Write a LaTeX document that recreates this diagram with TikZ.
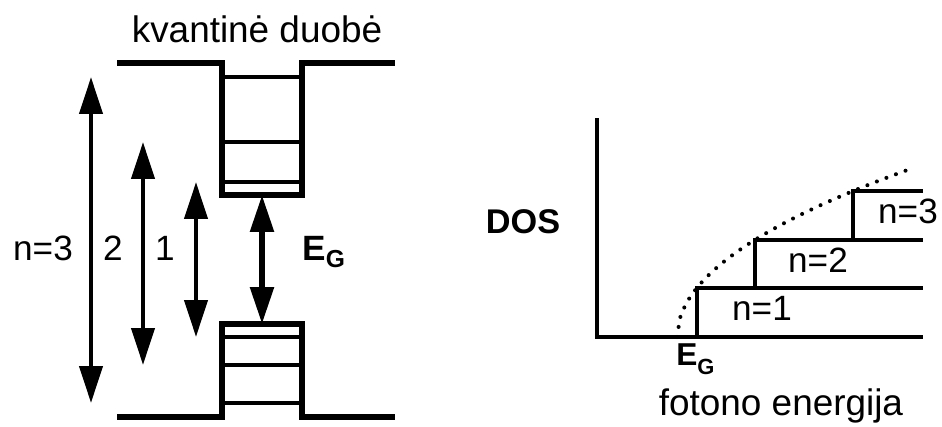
\documentclass[tikz,border=0pt]{standalone}
\usepackage{fontspec}
\setmainfont{Liberation Sans}
\usetikzlibrary{arrows.meta}

\tikzset{
  band/.style={line width=3pt},
  level/.style={line width=2.6pt},
  axisline/.style={line width=2.4pt},
  gap/.style={line width=2.5pt,
    {Triangle[length=21pt,width=13pt]}-{Triangle[length=21pt,width=13pt]}},
  gapbold/.style={gap, line width=3.3pt},
  lab/.style={anchor=base, inner sep=0pt, font=\fontsize{20}{24}\selectfont},
  bigtext/.style={anchor=base, inner sep=0pt, font=\fontsize{21}{25}\selectfont},
  dosline/.style={line width=2.3pt, line cap=round, dash pattern=on 0pt off 5.8pt}
}
% E with subscript G: size of E, size of G, drop of G
\newcommand{\egsym}[3]{\bfseries\fontsize{#1}{#1}\selectfont E\raisebox{-#3}{\fontsize{#2}{#2}\selectfont G}}

\begin{document}
\begin{tikzpicture}[x=0.2mm, y=-0.2mm]
  \useasboundingbox (0,0) rectangle (942,426);

  % Quantum well: conduction band and valence band
  \def\wl{222}
  \def\wr{302}
  \draw[band] (117,63) -- (\wl,63) -- (\wl,195) -- (\wr,195) -- (\wr,63) -- (395,63);
  \draw[band] (117,417) -- (\wl,417) -- (\wl,324) -- (\wr,324) -- (\wr,417) -- (395,417);

  % Levels inside the well
  \foreach \y in {77, 142, 182, 337, 365, 403} {
    \draw[level] (\wl,\y) -- (\wr,\y);
  }

  \node[bigtext] (title) at (257,42) {kvantinė duobė};

  % Transitions between levels
  \foreach \n/\x/\yc/\yv in {3/91/77/403, 2/143/142/365, 1/196/182/337} {
    \coordinate (c\n) at (\x,\yc);
    \coordinate (v\n) at (\x,\yv);
    \draw[gap] (c\n) -- (v\n);
  }
  \coordinate (cb) at (262,195);
  \coordinate (vb) at (262,324);
  \draw[gapbold] (cb) -- (vb);

  \node[lab] (tr3) at (43,260) {n=3};
  \node[lab] (tr2) at (113,260) {2};
  \node[lab] (tr1) at (165,260) {1};
  \node[anchor=base west, inner sep=0pt] (gapl) at (302,260) {\egsym{20}{14}{4pt}};

  % Density of states
  \draw[axisline] (597,118) -- (597,337) -- (923,337);
  \foreach \xa/\ya/\yb in {697/337/288, 755/288/240, 853/240/191} {
    \draw[axisline] (\xa,\ya) -- (\xa,\yb) -- (923,\yb);
  }
  \draw[dosline] plot[domain=0:238, samples=80] ({677+\x}, {337-11*sqrt(\x)});

  \node[anchor=base, inner sep=0pt, font=\bfseries\fontsize{19.5}{23}\selectfont] (dos) at (523,233) {DOS};
  \node[lab] (st1) at (762,320) {n=1};
  \node[lab] (st2) at (818,272) {n=2};
  \node[lab] (st3) at (908,223) {n=3};
  \node[anchor=base west, inner sep=0pt] (gapr) at (676,365) {\egsym{18}{12.5}{5.5pt}};
  \node[bigtext] (energy) at (781,415) {fotono energija};
\end{tikzpicture}
\end{document}
